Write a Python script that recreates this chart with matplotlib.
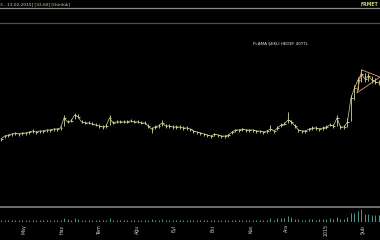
import numpy as np
import pandas as pd
import matplotlib
matplotlib.use('Agg')
import matplotlib.pyplot as plt
from matplotlib.lines import Line2D

# daily chart, one bar every 2 trading days
close = [10.4, 11.6, 12.0, 12.4, 12.8, 12.4, 12.8, 12.8, 13.2, 13.6,
         13.2, 13.6, 13.6, 14.0, 14.0, 14.4, 14.4, 14.8, 18.8, 17.2,
         17.6, 19.9, 19.2, 17.2, 16.8, 16.8, 16.4, 16.0, 15.6, 15.2,
         15.6, 18.8, 16.8, 17.2, 17.2, 17.2, 17.2, 17.6, 17.2, 17.2,
         16.8, 16.8, 15.6, 14.4, 15.2, 15.6, 16.8, 15.6, 15.6, 15.2,
         15.2, 15.2, 14.8, 14.8, 14.4, 13.6, 13.2, 12.8, 12.4, 12.0,
         11.6, 12.4, 12.0, 11.6, 11.6, 12.0, 13.2, 14.0, 14.0, 14.4,
         14.0, 14.0, 14.0, 13.6, 13.6, 13.2, 13.6, 14.4, 13.6, 14.8,
         16.0, 16.4, 18.0, 17.2, 15.6, 14.0, 13.6, 13.6, 14.4, 14.8,
         14.8, 14.4, 14.8, 15.2, 16.0, 15.6, 18.8, 15.2, 15.2, 17.2,
         26.7, 30.6, 33.8, 36.2, 34.2, 35.4, 33.8, 33.0, 32.6]
high = [11.0, 12.2, 12.6, 13.0, 13.4, 13.0, 13.4, 13.4, 13.8, 14.6,
        13.8, 14.2, 14.2, 14.6, 14.6, 15.0, 15.0, 15.4, 19.9, 18.0,
        18.4, 20.7, 20.3, 18.0, 17.4, 17.4, 17.0, 16.6, 16.2, 15.8,
        16.2, 19.9, 17.6, 17.8, 17.8, 17.8, 17.8, 18.2, 17.8, 17.8,
        17.4, 17.4, 16.4, 15.2, 15.8, 16.2, 17.8, 16.2, 16.2, 15.8,
        15.8, 15.8, 15.4, 15.4, 15.0, 14.2, 13.8, 13.4, 13.0, 12.6,
        12.2, 13.0, 12.6, 12.2, 12.2, 12.6, 13.8, 14.6, 14.6, 15.0,
        14.6, 14.6, 14.6, 14.2, 14.2, 13.8, 14.2, 16.0, 14.2, 15.4,
        16.8, 17.2, 21.0, 18.0, 16.4, 14.6, 14.2, 14.2, 15.0, 15.4,
        15.4, 15.0, 15.4, 15.8, 16.6, 16.2, 20.0, 15.8, 15.8, 18.8,
        28.0, 32.0, 35.0, 37.8, 36.6, 36.6, 35.4, 34.6, 33.8]
low = [9.8, 11.0, 11.4, 11.8, 12.2, 11.8, 12.2, 12.2, 12.6, 13.0,
       12.6, 13.0, 13.0, 13.4, 13.4, 13.8, 13.8, 14.2, 15.6, 16.6,
       17.0, 18.4, 18.6, 16.6, 16.2, 16.2, 15.8, 15.4, 15.0, 14.6,
       15.0, 16.0, 16.2, 16.6, 16.6, 16.6, 16.6, 17.0, 16.6, 16.6,
       16.2, 16.2, 14.8, 12.8, 14.6, 15.0, 15.6, 15.0, 15.0, 14.6,
       14.6, 14.6, 14.2, 14.2, 13.8, 13.0, 12.6, 12.2, 11.8, 11.4,
       10.8, 11.8, 11.4, 11.0, 11.0, 11.4, 12.6, 13.4, 13.4, 13.8,
       13.4, 13.4, 13.4, 13.0, 13.0, 12.6, 13.0, 13.8, 13.0, 14.2,
       15.2, 15.8, 16.6, 16.4, 14.8, 13.4, 13.0, 13.0, 13.8, 14.2,
       14.2, 13.8, 14.2, 14.6, 15.4, 15.0, 15.4, 14.6, 14.6, 15.2,
       17.6, 26.0, 30.0, 33.0, 33.2, 33.6, 32.6, 32.2, 32.0]
volume = [14, 12, 15, 13, 12, 16, 14, 12, 13, 18,
          13, 12, 14, 15, 12, 13, 14, 16, 35, 22,
          18, 30, 25, 16, 14, 13, 12, 14, 13, 12,
          14, 28, 16, 14, 13, 12, 14, 15, 13, 12,
          13, 14, 16, 20, 15, 14, 22, 14, 13, 12,
          13, 12, 14, 13, 12, 15, 14, 13, 16, 14,
          18, 14, 13, 15, 14, 13, 16, 18, 15, 14,
          13, 15, 14, 13, 15, 14, 16, 30, 18, 28,
          36, 30, 48, 38, 26, 20, 18, 17, 22, 20,
          18, 20, 22, 24, 30, 26, 44, 24, 22, 40,
          80, 72, 95, 112, 70, 66, 58, 62, 55]

# flag (pennant) drawn on the chart, in bar numbers / prices
flag_bar = [103.1, 108.3, 101.7, 103.1]
flag_price = [37.8, 35.0, 28.7, 37.8]

month_labels = ['May', 'Haz', 'Tem', 'Ağu', 'Eyl', 'Eki', 'Kas', 'Ara', '2015', 'Şub']
holidays = ['2014-07-29', '2014-10-29', '2015-01-01']

days = pd.bdate_range('2014-04-01', '2015-02-13', freq='C', holidays=holidays)
last = len(days) - 1
n = len(close)
bar_idx = last - 2 * (n - 1 - np.arange(n))

months = pd.Series(days).dt.to_period('M')
firsts = [i for i in range(1, len(days)) if months[i] != months[i - 1]]

bar_col = '#d6d89c'
fig = plt.figure(figsize=(3.8, 2.4), dpi=100, facecolor='black')

ax = fig.add_axes([0, 1 - 205 / 240, 1, 181 / 240])
ax.set_facecolor('black')
ax.vlines(bar_idx, low, high, color=bar_col, lw=0.6)
ax.hlines(close, bar_idx, bar_idx + 0.9, color=bar_col, lw=0.6)
ax.plot(bar_idx, close, color=bar_col, lw=0.5)
fx = last - 2 * (n - 1 - np.array(flag_bar))
ax.plot(fx, flag_price, color='#d8a078', lw=0.6)
ax.text(last - 2 * (n - 1 - 80.0), 48.1, 'FLAMA ŞEKLİ HEDEF 40YTL', color='#e6e6e6',
        fontsize=3.0, ha='center', va='center')
ax.set_xlim(last - 216.6, last + 0.6)
ax.set_ylim(-15.7, 56.0)
ax.axis('off')

axv = fig.add_axes([0, 1 - 222 / 240, 1, 14 / 240])
axv.set_facecolor('black')
axv.vlines(bar_idx, 0, volume, color='#4a9696', lw=0.7)
axv.axhline(0, color='#6cb4b4', lw=0.8)
axv.set_xlim(last - 216.6, last + 0.6)
axv.set_ylim(-3, 120)
for s in axv.spines.values():
    s.set_visible(False)
axv.set_yticks([])
axv.set_xticks(firsts[:len(month_labels)])
axv.set_xticklabels(month_labels, rotation=90, fontsize=3.4, color='#cfcfcf')
axv.tick_params(axis='x', length=0, pad=1.8)

# header / separator lines
fig.add_artist(Line2D([0, 1], [1 - 8 / 240] * 2, color='#8c8c8c', lw=0.9))
fig.add_artist(Line2D([0, 1], [1 - 23 / 240] * 2, color='#5a4850', lw=0.9))
fig.add_artist(Line2D([0, 1], [1 - 207 / 240] * 2, color='#808080', lw=1.2))
fig.text(0.001, 1 - 4 / 240, '3 - 13.02.2015] [32,60] [Günlük]', color='#d8d890',
         fontsize=3.1, ha='left', va='center')
fig.text(0.997, 1 - 4 / 240, 'FRMET', color='#c8d870', fontsize=3.4,
         ha='right', va='center', weight='bold')

fig.savefig('out.png', dpi=100, facecolor='black')
